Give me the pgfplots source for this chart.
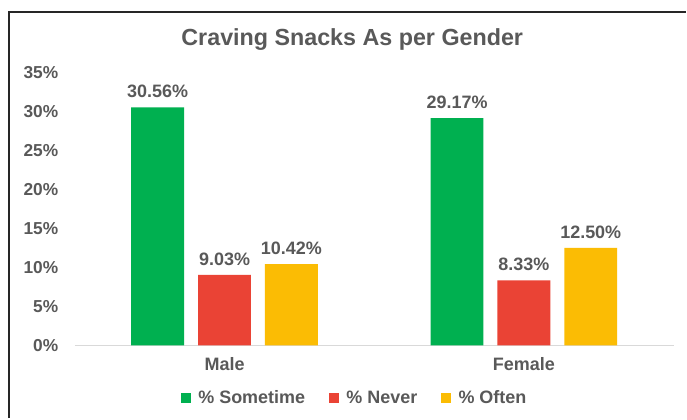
\documentclass[border=0pt]{standalone}
\usepackage{pgfplots}
\pgfplotsset{compat=1.18}
\usepackage{fontspec}
\setmainfont{Liberation Sans}
\definecolor{txt}{HTML}{595959}
\definecolor{cgreen}{HTML}{00B050}
\definecolor{cred}{HTML}{EA4335}
\definecolor{cyellow}{HTML}{FBBC04}
\definecolor{base}{HTML}{D9D9D9}
\begin{document}
\begin{tikzpicture}[x=0.75pt,y=0.75pt]
\path[fill=white] (0,0) rectangle (687,419);
\draw[line width=2.2pt,black!85] (9,0) -- (9,407) -- (687,407);
\node[font=\fontsize{17.5}{20}\selectfont\bfseries,text=txt] at (353,379) {Craving Snacks As per Gender};
\begin{axis}[
  at={(56.25pt,54.75pt)}, anchor=south west,
  scale only axis, width=450pt, height=204.75pt,
  xmin=-0.5, xmax=1.5, ymin=0, ymax=35,
  xtick={0,1}, xticklabels={Male,Female},
  ytick={0,5,...,35},
  yticklabel={\pgfmathprintnumber{\tick}\%},
  /pgf/number format/assume math mode=true,
  axis x line*=bottom, axis y line*=left,
  x axis line style={draw=base, line width=1pt},
  y axis line style={draw=none},
  major tick length=0pt,
  yticklabel style={font=\fontsize{13}{15}\selectfont\bfseries, text=txt, xshift=-9pt},
  xticklabel style={font=\fontsize{13.5}{15}\selectfont\bfseries, text=txt, yshift=-6pt},
  ybar, bar width=39.75pt,
  nodes near coords={\pgfmathprintnumber[fixed,fixed zerofill,precision=2]{\pgfplotspointmeta}\%},
  nodes near coords style={font=\fontsize{13.5}{15}\selectfont\bfseries, text=txt, yshift=3.5pt},
  legend style={at={(0.468,-0.195)}, anchor=center, draw=none, fill=none,
    legend columns=3, font=\fontsize{13.5}{15}\selectfont\bfseries, text=txt,
    /tikz/every even column/.append style={column sep=16pt},
    inner sep=0pt},
  legend image code/.code={\fill (0pt,-3.75pt) rectangle (7.5pt,3.75pt); \path (11pt,0pt);},
  clip=false,
]
\addplot[fill=cgreen, draw=none, bar shift=-50.25pt] coordinates {(0,30.56) (1,29.17)};
\addplot[fill=cred, draw=none, bar shift=0pt] coordinates {(0,9.03) (1,8.33)};
\addplot[fill=cyellow, draw=none, bar shift=50.25pt] coordinates {(0,10.42) (1,12.50)};
\legend{\% Sometime,\% Never,\% Often}
\end{axis}
\end{tikzpicture}
\end{document}
